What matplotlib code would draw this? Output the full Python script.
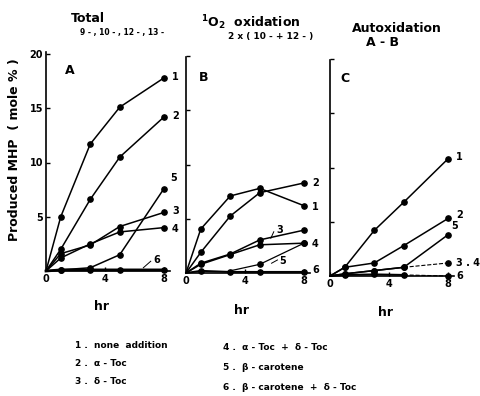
import matplotlib
matplotlib.use("Agg")
import matplotlib.pyplot as plt

# sampling times (hr)
hours = [0, 1, 3, 5, 8]

# A : total (9-, 10-, 12-, 13-)
a1 = [0, 5.0, 11.7, 15.1, 17.8]
a2 = [0, 2.0, 6.6, 10.5, 14.2]
a3 = [0, 1.6, 2.4, 4.1, 5.4]
a4 = [0, 1.2, 2.5, 3.6, 4.0]
a5 = [0, 0.1, 0.3, 1.5, 7.6]
a6 = [0, 0.1, 0.1, 0.1, 0.1]

# B : 1O2 oxidation 2 x (10- + 12-)
b1 = [0, 4.05, 7.1, 7.8, 6.2]
b2 = [0, 1.9, 5.25, 7.4, 8.3]
b3 = [0, 0.9, 1.75, 3.05, 3.95]
b4 = [0, 0.8, 1.7, 2.6, 2.75]
b5 = [0, 0.1, 0.2, 0.8, 2.75]
b6 = [0, 0.2, 0.1, 0.1, 0.1]

# C : autoxidation A - B
c1 = [0, 0.8, 4.2, 6.8, 10.8]
c2 = [0, 0.8, 1.2, 2.8, 5.3]
c5 = [0, 0.2, 0.5, 0.8, 3.8]
c34 = [0, 0.2, 0.5, 0.8, 1.2]
c6 = [0, 0.1, 0.15, 0.1, 0.0]

legend_left = ["1 .  none  addition", "2 .  \u03b1 - Toc", "3 .  \u03b4 - Toc"]
legend_right = ["4 .  \u03b1 - Toc  +  \u03b4 - Toc", "5 .  \u03b2 - carotene",
                "6 .  \u03b2 - carotene  +  \u03b4 - Toc"]

W, H = 480, 396
plt.rcParams['font.family'] = 'DejaVu Sans'
plt.rcParams['font.weight'] = 'bold'
fig = plt.figure(figsize=(W / 100, H / 100), dpi=100)

XPX, YPX = 14.75, 10.85


def panel(x0, y0, top):
    ax = fig.add_axes([x0 / W, (H - y0) / H, 8.4 * XPX / W, 20.4 * YPX / H])
    ax.set_xlim(0, 8.4)
    ax.set_ylim(0, 20.4)
    for s in ['top', 'right']:
        ax.spines[s].set_visible(False)
    ax.spines['left'].set_bounds(0, top)
    ax.spines['left'].set_linewidth(1.2)
    ax.spines['bottom'].set_linewidth(1.2)
    ax.set_xticks([0, 4, 8])
    ax.set_yticks([5, 10, 15, 20])
    ax.tick_params(direction='in', length=3, width=1, labelsize=7, pad=2)
    return ax


def curve(ax, y, xs=hours, ls='-', lw=1.1, mk=True):
    ax.plot(xs, y, color='black', lw=lw, ls=ls, clip_on=False)
    if mk:
        ax.plot(xs[1:], y[1:], 'o', color='black', ms=3.8, clip_on=False)


def lab(ax, x, y, s):
    ax.text(x, y, s, fontsize=7, fontweight='bold', va='center', ha='left',
            clip_on=False)


def pointer(ax, x0, y0, x1, y1):
    ax.plot([x0, x1], [y0, y1], color='black', lw=0.7, clip_on=False)


# ---- panel A
axA = panel(46, 271, 20.2)
axA.set_yticklabels(['5', '10', '15', '20'])
for y in [a1, a2, a3, a4, a5]:
    curve(axA, y)
curve(axA, a6, lw=2)
lab(axA, 8.55, 17.9, '1')
lab(axA, 8.55, 14.3, '2')
lab(axA, 8.45, 8.6, '5')
lab(axA, 8.55, 5.5, '3')
lab(axA, 8.55, 3.9, '4')
lab(axA, 7.25, 1.0, '6')
pointer(axA, 6.6, 0.3, 7.1, 0.9)
axA.text(1.3, 18.5, 'A', fontsize=9, fontweight='bold', va='center')

# ---- panel B
axB = panel(186, 273, 19.9)
axB.set_yticklabels([])
for y in [b1, b2, b3, b4]:
    curve(axB, y)
curve(axB, b5[2:], xs=hours[2:], lw=0.9)
curve(axB, b6, lw=1.4)
lab(axB, 8.55, 8.3, '2')
lab(axB, 8.55, 6.1, '1')
lab(axB, 6.1, 4.0, '3')
pointer(axB, 5.75, 3.2, 5.95, 3.8)
lab(axB, 8.55, 2.7, '4')
lab(axB, 6.3, 1.1, '5')
pointer(axB, 5.8, 0.9, 6.2, 1.2)
lab(axB, 8.55, 0.3, '6')
axB.text(0.9, 18.0, 'B', fontsize=9, fontweight='bold', va='center')

# ---- panel C
axC = panel(330, 276, 19.9)
axC.set_yticklabels([])
for y in [c1, c2, c5]:
    curve(axC, y)
curve(axC, c34[:4], xs=hours[:4])
curve(axC, c34[3:], xs=hours[3:], ls='--', lw=0.8)
curve(axC, c6[:4], xs=hours[:4], lw=1.4)
curve(axC, c6[3:], xs=hours[3:], ls='--', lw=0.8)
lab(axC, 8.55, 11.0, '1')
lab(axC, 8.55, 5.6, '2')
lab(axC, 8.2, 4.6, '5')
lab(axC, 8.55, 1.2, '3 . 4')
lab(axC, 8.55, 0.0, '6')
axC.text(0.7, 18.2, 'C', fontsize=9, fontweight='bold', va='center')

for ax, ypx in [(axA, 307), (axB, 310), (axC, 313)]:
    bb = ax.get_position()
    fig.text(bb.x0 + bb.width * 0.45, 1 - ypx / H, 'hr', fontsize=9,
             fontweight='bold', ha='center', va='center')

# headings
fig.text(88 / W, 1 - 18 / H, 'Total', fontsize=9, fontweight='bold',
         ha='center', va='center')
fig.text(122 / W, 1 - 33 / H, '9 - , 10 - , 12 - , 13 -', fontsize=5.5,
         fontweight='bold', ha='center', va='center')
fig.text(251 / W, 1 - 23 / H, '$^{1}$O$_2$  oxidation', fontsize=9,
         fontweight='bold', ha='center', va='center')
fig.text(271 / W, 1 - 36 / H, '2 x ( 10 - + 12 - )', fontsize=6.5,
         fontweight='bold', ha='center', va='center')
fig.text(397 / W, 1 - 28 / H, 'Autoxidation', fontsize=9, fontweight='bold',
         ha='center', va='center')
fig.text(383 / W, 1 - 43 / H, 'A - B', fontsize=9, fontweight='bold',
         ha='center', va='center')

fig.text(15 / W, 1 - 150 / H, 'Produced MHP  ( mole % )', fontsize=9,
         fontweight='bold', rotation=90, ha='center', va='center')

for i, s in enumerate(legend_left):
    fig.text(75 / W, 1 - (345 + 18 * i) / H, s, fontsize=6.5,
             fontweight='bold', ha='left', va='center')
for i, s in enumerate(legend_right):
    fig.text(223 / W, 1 - (348 + 19.5 * i) / H, s, fontsize=6.5,
             fontweight='bold', ha='left', va='center')

fig.savefig('out.png', dpi=100)
